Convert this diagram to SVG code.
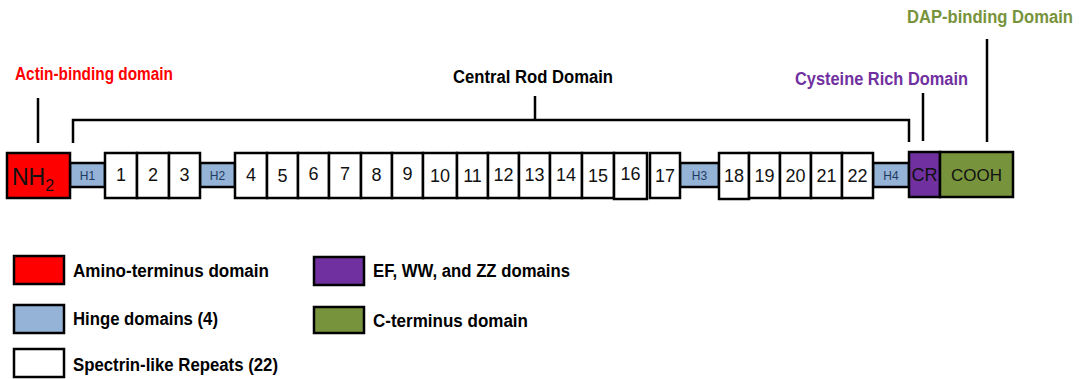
<svg xmlns="http://www.w3.org/2000/svg" width="1083" height="379" viewBox="0 0 1083 379">
<style>
.lbl{font-family:"Liberation Sans",Arial,sans-serif;font-weight:bold;font-size:17.5px}
.num{font-family:"Liberation Sans",Arial,sans-serif;font-size:18px;fill:#111;text-anchor:middle}
.h{font-family:"Liberation Sans",Arial,sans-serif;font-size:12px;fill:#1F3A60;text-anchor:middle}
.box{fill:#fff;stroke:#000;stroke-width:2.5}
.hinge{fill:#95B3D7;stroke:#000;stroke-width:2.5}
.ln{fill:none;stroke:#000;stroke-width:2.5}
.leg{font-family:"Liberation Sans",Arial,sans-serif;font-weight:bold;font-size:17.5px;fill:#000}
</style>
<rect width="1083" height="379" fill="#fff"/>
<g id="labels">
<text class="lbl" x="15" y="80" fill="#FF0000" textLength="158" lengthAdjust="spacingAndGlyphs">Actin-binding domain</text>
<text class="lbl" x="453" y="83" fill="#000" textLength="160" lengthAdjust="spacingAndGlyphs">Central Rod Domain</text>
<text class="lbl" x="795" y="85" fill="#7030A0" textLength="173" lengthAdjust="spacingAndGlyphs">Cysteine Rich Domain</text>
<text class="lbl" x="907" y="23" fill="#77933C" textLength="166" lengthAdjust="spacingAndGlyphs">DAP-binding Domain</text>
</g>
<g id="connectors">
<path class="ln" d="M38,98 V143"/>
<path class="ln" d="M73,143 V120 H909 V142"/>
<path class="ln" d="M535,96 V120"/>
<path class="ln" d="M923,93 V141"/>
<path class="ln" d="M987,39 V142"/>
</g>
<g id="hinges">
<g id="H1"><rect class="hinge" x="70" y="163" width="35" height="24"/><text class="h" x="87.5" y="180">H1</text></g>
<g id="H2"><rect class="hinge" x="200" y="163" width="35" height="24"/><text class="h" x="217.5" y="180">H2</text></g>
<g id="H3"><rect class="hinge" x="680" y="163" width="39" height="24"/><text class="h" x="699.5" y="180">H3</text></g>
<g id="H4"><rect class="hinge" x="873" y="163" width="36" height="24"/><text class="h" x="891" y="180">H4</text></g>
</g>
<g id="NH2"><rect x="7" y="153" width="63" height="45" fill="#FF0000" stroke="#000" stroke-width="2.5"/><text x="12" y="185" font-family="Liberation Sans,Arial,sans-serif" font-size="23" fill="#111">NH<tspan font-size="16" dy="6">2</tspan></text></g>
<g id="repeats">
<g id="R1"><rect class="box" x="105" y="153" width="32" height="45"/><text class="num" x="121" y="181">1</text></g>
<g id="R2"><rect class="box" x="137" y="153" width="32" height="45"/><text class="num" x="153" y="181">2</text></g>
<g id="R3"><rect class="box" x="169" y="153" width="31" height="45"/><text class="num" x="184.5" y="181">3</text></g>
<g id="R4"><rect class="box" x="235" y="153" width="32" height="45"/><text class="num" x="251" y="181">4</text></g>
<g id="R5"><rect class="box" x="267" y="153" width="31" height="45"/><text class="num" x="282.5" y="182">5</text></g>
<g id="R6"><rect class="box" x="298" y="153" width="31" height="45"/><text class="num" x="313.5" y="180">6</text></g>
<g id="R7"><rect class="box" x="329" y="153" width="32" height="45"/><text class="num" x="345" y="180">7</text></g>
<g id="R8"><rect class="box" x="361" y="153" width="31" height="45"/><text class="num" x="376.5" y="181">8</text></g>
<g id="R9"><rect class="box" x="392" y="153" width="31" height="45"/><text class="num" x="407.5" y="180">9</text></g>
<g id="R10"><rect class="box" x="423" y="153" width="34" height="45"/><text class="num" x="440" y="182">10</text></g>
<g id="R11"><rect class="box" x="457" y="153" width="31" height="45"/><text class="num" x="472.5" y="182">11</text></g>
<g id="R12"><rect class="box" x="488" y="153" width="31" height="45"/><text class="num" x="503.5" y="181">12</text></g>
<g id="R13"><rect class="box" x="519" y="153" width="31" height="45"/><text class="num" x="534.5" y="181">13</text></g>
<g id="R14"><rect class="box" x="550" y="153" width="32" height="45"/><text class="num" x="566" y="181">14</text></g>
<g id="R15"><rect class="box" x="582" y="153" width="32" height="45"/><text class="num" x="598" y="182">15</text></g>
<g id="R16"><rect class="box" x="614" y="153" width="33" height="46"/><text class="num" x="630.5" y="180">16</text></g>
<g id="R17"><rect class="box" x="650" y="153" width="30" height="45"/><text class="num" x="665" y="182">17</text></g>
<g id="R18"><rect class="box" x="719" y="153" width="30" height="46"/><text class="num" x="734" y="182">18</text></g>
<g id="R19"><rect class="box" x="749" y="153" width="31" height="45"/><text class="num" x="764.5" y="182">19</text></g>
<g id="R20"><rect class="box" x="780" y="153" width="31" height="45"/><text class="num" x="795.5" y="182">20</text></g>
<g id="R21"><rect class="box" x="811" y="153" width="31" height="45"/><text class="num" x="826.5" y="182">21</text></g>
<g id="R22"><rect class="box" x="842" y="153" width="31" height="45"/><text class="num" x="857.5" y="182">22</text></g>
</g>
<g id="CR"><rect x="909" y="152" width="31" height="45" fill="#7030A0" stroke="#000" stroke-width="2.5"/><text x="924.5" y="181" font-family="Liberation Sans,Arial,sans-serif" font-size="18" fill="#111" text-anchor="middle">CR</text></g>
<g id="COOH"><rect x="940" y="152" width="73" height="45" fill="#77933C" stroke="#000" stroke-width="2.5"/><text x="976.5" y="181" font-family="Liberation Sans,Arial,sans-serif" font-size="17" fill="#111" text-anchor="middle">COOH</text></g>
<g id="legend">
<rect x="14" y="256" width="50" height="28" fill="#FF0000" stroke="#000" stroke-width="2.5"/>
<text class="leg" x="73" y="277" textLength="196" lengthAdjust="spacingAndGlyphs">Amino-terminus domain</text>
<rect x="14" y="305" width="50" height="28" fill="#95B3D7" stroke="#000" stroke-width="2.5"/>
<text class="leg" x="73" y="325" textLength="145" lengthAdjust="spacingAndGlyphs">Hinge domains (4)</text>
<rect x="14" y="349" width="50" height="28" fill="#fff" stroke="#000" stroke-width="2.5"/>
<text class="leg" x="73" y="371" textLength="205" lengthAdjust="spacingAndGlyphs">Spectrin-like Repeats (22)</text>
<rect x="314" y="257" width="50" height="28" fill="#7030A0" stroke="#000" stroke-width="2.5"/>
<text class="leg" x="373" y="277" textLength="197" lengthAdjust="spacingAndGlyphs">EF, WW, and ZZ domains</text>
<rect x="314" y="307" width="50" height="26" fill="#77933C" stroke="#000" stroke-width="2.5"/>
<text class="leg" x="373" y="327" textLength="155" lengthAdjust="spacingAndGlyphs">C-terminus domain</text>
</g>
</svg>
